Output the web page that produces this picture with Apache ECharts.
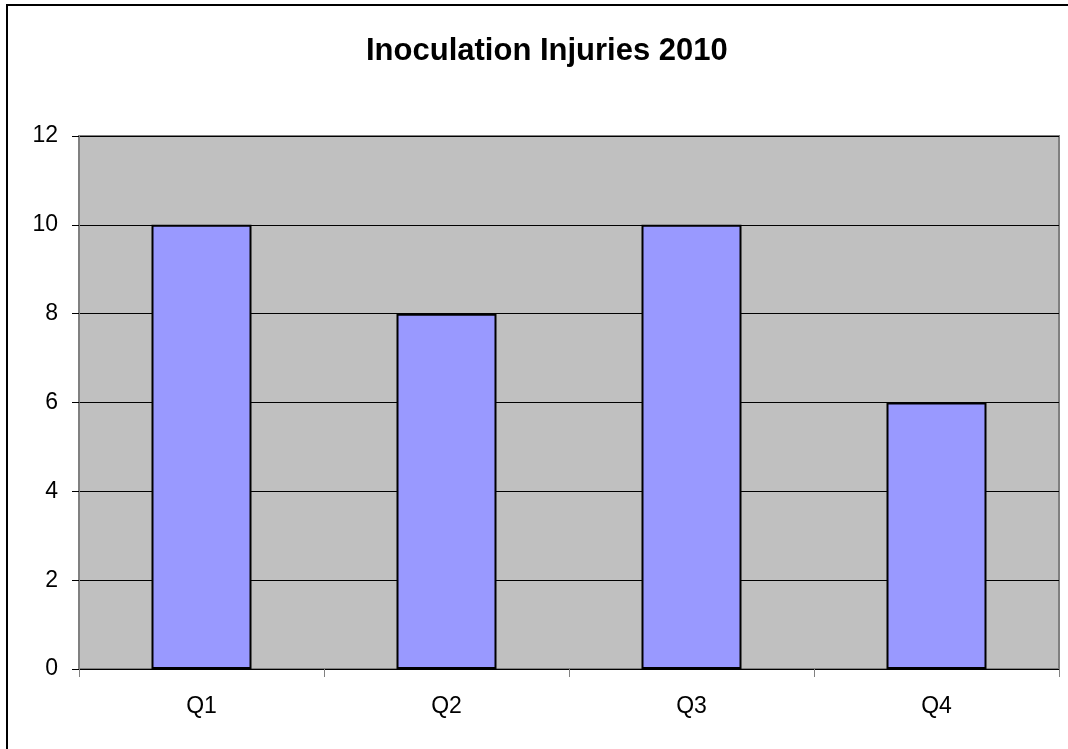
<!DOCTYPE html>
<html>
<head>
<meta charset="utf-8">
<script src="https://cdn.jsdelivr.net/npm/echarts@6/dist/echarts.min.js"></script>
<style>
  html, body { margin: 0; padding: 0; background: #fff; }
  #chart { width: 1068px; height: 749px; }
</style>
</head>
<body>
<div id="chart"></div>
<script>
// quarters and counts
const quarters = [ 'Q1', 'Q2', 'Q3', 'Q4' ];
const injuries = [ 10, 8, 10, 6 ];
const chartTitle = 'Inoculation Injuries 2010';

const font = 'Liberation Sans, Arial, sans-serif';

const chart = echarts.init( document.getElementById( 'chart' ) );

chart.setOption( {
    animation: false,
    backgroundColor: '#fff',
    title: {
        text: chartTitle,
        left: 361,
        top: 31,
        textStyle: { fontFamily: font, fontSize: 31, fontWeight: 'bold', color: '#000' }
    },
    graphic: [
        { type: 'line', shape: { x1: 6, y1: 5, x2: 1068, y2: 5 }, style: { stroke: '#000', lineWidth: 2 } },
        { type: 'line', shape: { x1: 7, y1: 4, x2: 7, y2: 749 }, style: { stroke: '#000', lineWidth: 2 } }
    ],
    grid: {
        left: 79, right: 9, top: 136, bottom: 80,
        show: true,
        backgroundColor: '#C0C0C0',
        borderColor: '#808080',
        borderWidth: 2
    },
    xAxis: {
        type: 'category',
        data: quarters,
        axisLine: { lineStyle: { color: '#000', width: 1 } },
        axisTick: { show: true, length: 8, interval: 0, lineStyle: { color: '#808080' } },
        axisLabel: { margin: 26, color: '#000', fontFamily: font, fontSize: 23 }
    },
    yAxis: {
        type: 'value',
        min: 0, max: 12, interval: 2,
        axisLine: { show: true, lineStyle: { color: '#808080', width: 1 } },
        axisTick: { show: true, length: 7, lineStyle: { color: '#000' } },
        axisLabel: { margin: 21, color: '#000', fontFamily: font, fontSize: 23 },
        splitLine: { show: true, lineStyle: { color: '#000', width: 1 } }
    },
    series: [ {
        type: 'bar',
        data: injuries,
        barWidth: 100,
        itemStyle: { color: '#9999FF', borderColor: '#000', borderWidth: 2 }
    } ]
} );
</script>
</body>
</html>
